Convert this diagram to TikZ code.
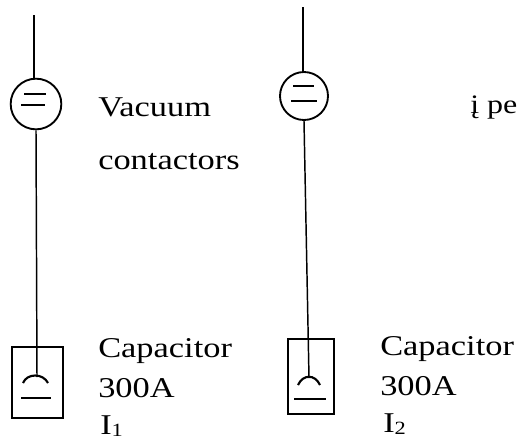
\documentclass[tikz,border=0pt]{standalone}
\usepackage{fontspec}
\setmainfont[FakeStretch=1.2]{Liberation Serif}
\newcommand{\subdigit}[1]{\raisebox{-1.5pt}{\fontsize{14}{14}\selectfont #1}}
\tikzset{
 x=0.75pt,y=-0.75pt,
 wire/.style={draw=black,line width=1.1pt},
 sym/.style={draw=black,line width=1.3pt},
 lab/.style={anchor=base west,inner sep=0pt,font=\fontsize{21.5}{25}\selectfont,text=black},
 contact/.style={circle,draw=black,line width=1.4pt,minimum size=38pt,inner sep=0pt},
 capbox/.style={draw=black,line width=1.4pt,inner sep=0pt,anchor=north west}
}
\begin{document}
\begin{tikzpicture}
\useasboundingbox (0,0) rectangle (517,440);
% left branch
\coordinate (t1) at (34,15);
\node[contact] (c1) at (36,104) {};
\node[capbox,minimum width=38pt,minimum height=53pt] (b1) at (11,346) {};
\coordinate (a1) at (37,377);
\draw[wire] (t1) -- (c1.north -| t1);
\draw[wire] (c1.south) -- (a1);
\draw[sym] (24,94) -- (46,94);
\draw[sym] (21,105) -- (45,105);
\draw[sym,line width=1.6pt] (23,383) .. controls (27,373) and (43,373) .. (48,383);
\draw[sym] (21,398) -- (51,398);
% right branch
\coordinate (t2) at (303,7);
\node[contact,minimum size=36pt] (c2) at (304,96) {};
\node[capbox,minimum width=34.5pt,minimum height=56pt] (b2) at (287,338) {};
\coordinate (a2) at (309,378);
\draw[wire] (t2) -- (c2.north -| t2);
\draw[wire] (c2.south) -- (a2);
\draw[sym] (293,86) -- (314,86);
\draw[sym] (291,101) -- (317,101);
\draw[sym,line width=1.6pt] (298,385) .. controls (303,374) and (315,374) .. (320,385);
\draw[sym] (294,399) -- (326,399);
% labels
\node[lab] (v) at (98,116) {Vacuum};
\node[lab] (k) at (98,169) {contactors};
\node[lab] (cap1) at (98,357) {Capacitor};
\node[lab] (a300) at (98,397) {300A};
\node[lab] (i1) at (100,434) {I\subdigit{1}};
\node[lab] (cap2) at (380,355) {Capacitor};
\node[lab] (b300) at (380,395) {300A};
\node[lab] (i2) at (383,432) {I\subdigit{2}};
\node[lab] (pe) at (470,113) {\fontsize{20}{24}\selectfont į pe};
\end{tikzpicture}
\end{document}
